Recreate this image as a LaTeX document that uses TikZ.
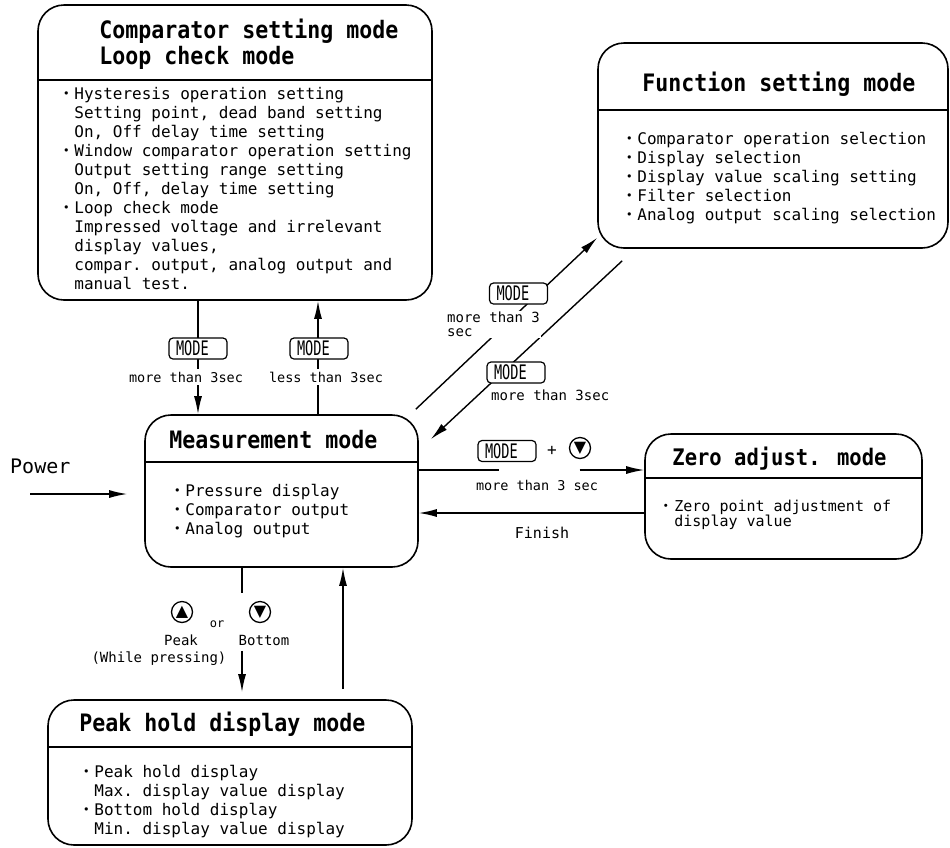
\documentclass[tikz,border=0pt]{standalone}
\usepackage{fontspec}
\usepackage{graphicx}
\usepackage{tikz}
\usetikzlibrary{arrows.meta,positioning,calc}
\setmonofont{DejaVu Sans Mono}
\newfontfamily\headfont[FakeStretch=0.9]{DejaVu Sans Mono}
\newfontfamily\symfont{DejaVu Sans}
\newfontfamily\cjk{Noto Sans CJK JP}
\newcommand{\bul}{\makebox[13pt][l]{\hspace{-3pt}\cjk ・}}
\newcommand{\ind}{\hspace*{13pt}}
\newcommand{\modetxt}{\scalebox{0.85}[1.25]{MODE}}
\tikzset{
    modebox/.style={rectangle, draw=black, line width=1.6pt, rounded corners=26pt, fill=white},
    headtxt/.style={anchor=north west, inner sep=0pt, align=left, font=\headfont\bfseries\fontsize{24}{26}\selectfont},
    bodytxt/.style={anchor=north west, inner sep=0pt, align=left, font=\ttfamily\fontsize{16}{19}\selectfont},
    cond/.style={inner xsep=1pt, inner ysep=3pt, fill=white, font=\ttfamily\fontsize{13.5}{14}\selectfont},
    modekey/.style={rectangle, draw=black, line width=1.2pt, rounded corners=4pt, fill=white, minimum height=21pt, text width=44pt, inner xsep=7pt, inner ysep=0pt, align=left, font=\ttfamily\fontsize{16}{16}\selectfont},
    btn/.style={circle, draw=black, line width=1.3pt, inner sep=0pt, minimum size=21pt, font=\symfont\fontsize{16}{16}\selectfont},
    arrow/.style={line width=1.4pt, -{Latex[length=18pt,width=8pt]}},
    link/.style={line width=1.4pt}
}

\begin{document}
\begin{tikzpicture}[x=1pt, y=-1pt]
    \useasboundingbox (0,0) rectangle (950,847);

    % Mode boxes
    \node (cmp) [modebox, minimum width=394pt, minimum height=295pt] at (235,152.5) {};
    \node (func) [modebox, minimum width=350pt, minimum height=205pt] at (773,145.5) {};
    \node (meas) [modebox, minimum width=273pt, minimum height=152pt] at (281.5,491) {};
    \node (zero) [modebox, minimum width=277pt, minimum height=125pt] at (783.5,496.5) {};
    \node (peak) [modebox, minimum width=364pt, minimum height=145pt] at (230,772.5) {};

    \draw[line width=1.6pt] ([yshift=-76pt]cmp.north west) -- ([yshift=-76pt]cmp.north east);
    \draw[line width=1.6pt] ([yshift=-68pt]func.north west) -- ([yshift=-68pt]func.north east);
    \draw[line width=1.6pt] ([yshift=-48pt]meas.north west) -- ([yshift=-48pt]meas.north east);
    \draw[line width=1.6pt] ([yshift=-45pt]zero.north west) -- ([yshift=-45pt]zero.north east);
    \draw[line width=1.6pt] ([yshift=-48pt]peak.north west) -- ([yshift=-48pt]peak.north east);

    \node (cmphead) [headtxt] at ([xshift=62pt,yshift=-15pt]cmp.north west) {Comparator setting mode\\Loop check mode};
    \node (cmpbody) [bodytxt] at ([xshift=24pt,yshift=-83pt]cmp.north west) {\bul Hysteresis operation setting\\\ind Setting point, dead band setting\\\ind On, Off delay time setting\\\bul Window comparator operation setting\\\ind Output setting range setting\\\ind On, Off, delay time setting\\\bul Loop check mode\\\ind Impressed voltage and irrelevant\\\ind display values,\\\ind compar. output, analog output and\\\ind manual test.};

    \node (funchead) [headtxt] at ([xshift=45pt,yshift=-29.5pt]func.north west) {Function setting mode};
    \node (funcbody) [bodytxt] at ([xshift=27pt,yshift=-89.8pt]func.north west) {\bul Comparator operation selection\\\bul Display selection\\\bul Display value scaling setting\\\bul Filter selection\\\bul Analog output scaling selection};

    \node (meashead) [headtxt] at ([xshift=25pt,yshift=-15.5pt]meas.north west) {Measurement mode};
    \node (measbody) [bodytxt] at ([xshift=28pt,yshift=-69.8pt]meas.north west) {\bul Pressure display\\\bul Comparator output\\\bul Analog output};

    \node (zerohead) [headtxt, font=\headfont\bfseries\fontsize{22.8}{24}\selectfont] at ([xshift=28pt,yshift=-14pt]zero.north west) {Zero adjust. mode};
    \node (zerobody) [bodytxt, font=\ttfamily\fontsize{15}{15}\selectfont] at ([xshift=17pt,yshift=-66.6pt]zero.north west) {\bul Zero point adjustment of\\\ind display value};

    \node (peakhead) [headtxt] at ([xshift=32pt,yshift=-12.5pt]peak.north west) {Peak hold display mode};
    \node (peakbody) [bodytxt] at ([xshift=34pt,yshift=-65.8pt]peak.north west) {\bul Peak hold display\\\ind Max. display value display\\\bul Bottom hold display\\\ind Min. display value display};

    % Power
    \node (power) [anchor=base west, inner sep=0pt, font=\ttfamily\fontsize{20}{20}\selectfont] at (10,473) {Power};
    \coordinate (pw) at (30,494);
    \draw[arrow, shorten >=17pt] (pw) -- (pw -| meas.west);

    % Comparator <-> Measurement
    \coordinate (c1) at ([xshift=-37pt]cmp.south);
    \draw[arrow] (c1) -- (c1 |- meas.north);
    \coordinate (c2) at ([xshift=36.5pt]meas.north);
    \draw[arrow] (c2) -- (c2 |- cmp.south);
    \node (key1) [modekey] at (198,348.5) {\modetxt};
    \node (key2) [modekey] at (319,348.5) {\modetxt};
    \node (lbl1) [cond] at (186,377) {more than 3sec};
    \node (lbl2) [cond] at (326,377) {less than 3sec};

    % Measurement <-> Function
    \draw[arrow] ([xshift=-3pt,yshift=5pt]meas.north east) -- ([yshift=11pt]func.south west);
    \draw[arrow] ([xshift=25pt,yshift=-12pt]func.south west) -- ([xshift=12pt,yshift=-25pt]meas.north east);
    \node (key3) [modekey] at (518.5,293.5) {\modetxt};
    \node (key4) [modekey] at (516,372.5) {\modetxt};
    \node (lbl3) [cond, inner sep=1pt, anchor=north west, align=left, font=\ttfamily\fontsize{14}{14}\selectfont] at (446,311) {more than 3\\sec};
    \node (lbl4) [cond, inner sep=1pt, anchor=base west, font=\ttfamily\fontsize{14}{14}\selectfont] at (490,400) {more than 3sec};

    % Measurement <-> Zero adjust
    \coordinate (z1) at ([yshift=21pt]meas.east);
    \coordinate (z2) at (z1 -| zero.west);
    \path (z1) -- coordinate[pos=0.357] (z1a) coordinate[pos=0.714] (z1b) (z2);
    \draw[link] (z1) -- (z1a);
    \draw[arrow] (z1b) -- (z2);
    \node (key5) [modekey] at (507,451) {\modetxt};
    \node (plus) [font=\ttfamily\fontsize{16}{16}\selectfont] at (552,451) {+};
    \node (dn1) [btn] at (580,448) {▼};
    \node (lbl5) [anchor=base, inner sep=0pt, font=\ttfamily\fontsize{13.5}{14}\selectfont] at (537,490) {more than 3 sec};
    \coordinate (f1) at ([yshift=-22pt]meas.east);
    \draw[arrow] (f1 -| zero.west) -- (f1);
    \node (lbl6) [anchor=base, inner sep=0pt, font=\ttfamily\fontsize{15}{15}\selectfont] at (542,538) {Finish};

    % Measurement <-> Peak hold
    \coordinate (p1) at ([xshift=-39.5pt]meas.south);
    \path (p1) -- coordinate[pos=0.195] (p1a) coordinate[pos=0.632] (p1b) (p1 |- peak.north);
    \draw[link] (p1) -- (p1a);
    \draw[arrow, shorten >=7pt] (p1b) -- (p1 |- peak.north);
    \coordinate (p2) at ([xshift=61.5pt]meas.south);
    \draw[arrow, shorten <=10pt] (p2 |- peak.north) -- (p2);
    \node (up2) [btn] at (182,612) {▲};
    \node (dn2) [btn] at (260,612) {▼};
    \node (or) [anchor=base, inner sep=0pt, font=\ttfamily\fontsize{12}{12}\selectfont] at (217,627) {or};
    \node (lbl7) [anchor=base, inner sep=0pt, font=\ttfamily\fontsize{14}{14}\selectfont] at (181,645) {Peak};
    \node (lbl8) [anchor=base, inner sep=0pt, font=\ttfamily\fontsize{14}{14}\selectfont] at (264,645) {Bottom};
    \node (lbl9) [anchor=base, inner sep=0pt, font=\ttfamily\fontsize{14}{14}\selectfont] at (159,662) {(While pressing)};
\end{tikzpicture}
\end{document}
